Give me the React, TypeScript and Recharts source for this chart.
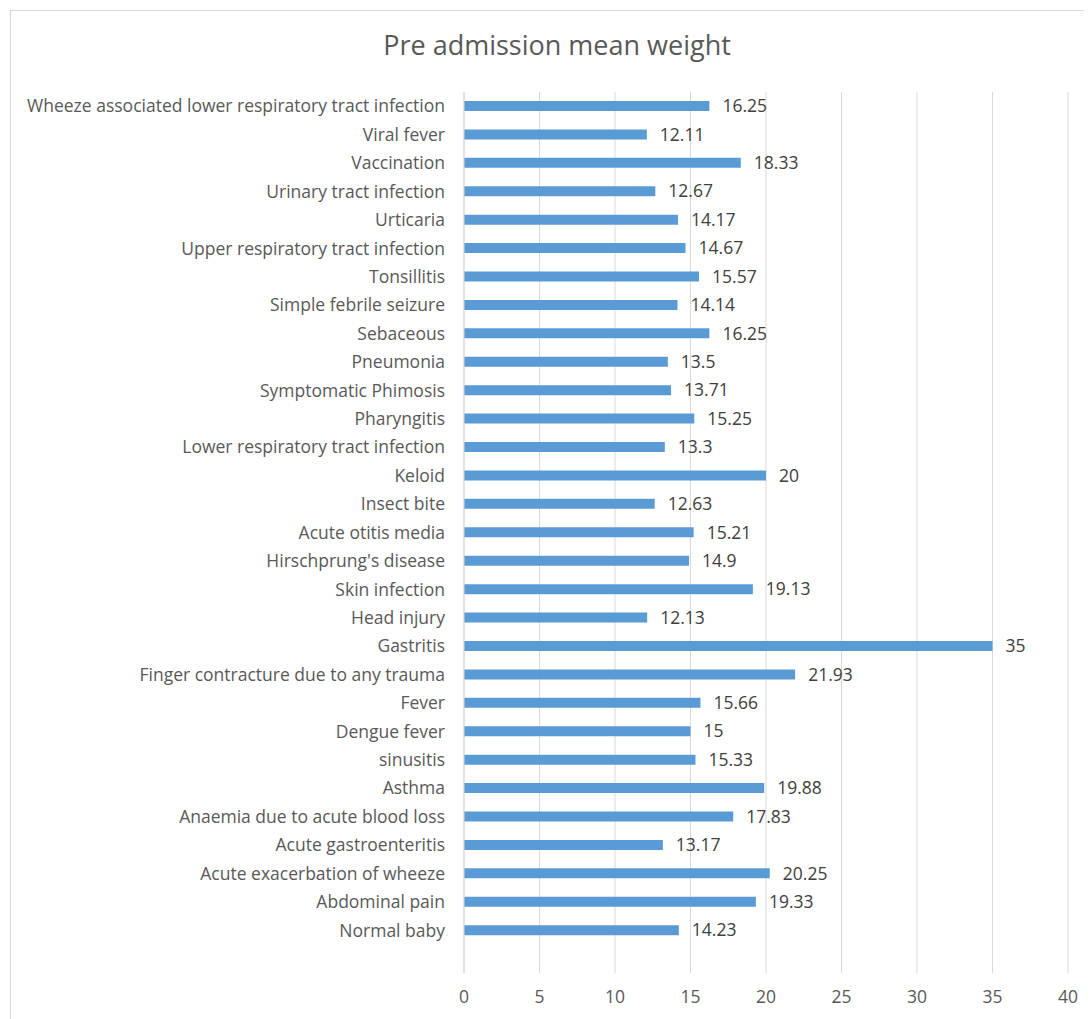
import React from 'react'
import { BarChart, Bar, XAxis, YAxis, CartesianGrid, LabelList } from 'recharts'

// top-to-bottom order; the trailing blank row keeps the empty slot under the last bar
const diagnoses = [
  'Wheeze associated lower respiratory tract infection',
  'Viral fever',
  'Vaccination',
  'Urinary tract infection',
  'Urticaria',
  'Upper respiratory tract infection',
  'Tonsillitis',
  'Simple febrile seizure',
  'Sebaceous',
  'Pneumonia',
  'Symptomatic Phimosis ',
  'Pharyngitis',
  'Lower respiratory tract infection',
  'Keloid',
  'Insect bite',
  'Acute otitis media',
  "Hirschprung's disease",
  'Skin infection',
  'Head injury',
  'Gastritis',
  'Finger contracture due to any trauma',
  'Fever',
  'Dengue fever',
  'sinusitis',
  'Asthma',
  'Anaemia due to acute blood loss',
  'Acute gastroenteritis',
  'Acute exacerbation of wheeze',
  'Abdominal pain',
  'Normal baby',
  '',
]

const meanWeight: (number | null)[] = [
  16.25, 12.11, 18.33, 12.67, 14.17, 14.67, 15.57, 14.14, 16.25, 13.5,
  13.71, 15.25, 13.3, 20, 12.63, 15.21, 14.9, 19.13, 12.13, 35,
  21.93, 15.66, 15, 15.33, 19.88, 17.83, 13.17, 20.25, 19.33, 14.23,
  null,
]

const xTicks = [0, 5, 10, 15, 20, 25, 30, 35, 40]

const data = diagnoses.map((name, i) => ({ name, value: meanWeight[i] }))

const FONT = '"Open Sans", Lato, sans-serif'
const FS = 17.5

export default function App() {
  return (
    <div style={{ position: 'relative', width: 1084, height: 1011, overflow: 'hidden', fontFamily: FONT }}>
      <div
        style={{
          position: 'absolute',
          left: 2,
          top: 2,
          width: 1200,
          height: 1200,
          borderLeft: '1px solid #d9d9d9',
          borderTop: '1px solid #d9d9d9',
        }}
      />
      <div
        style={{
          position: 'absolute',
          left: 2,
          top: 19,
          width: 1094,
          textAlign: 'center',
          fontSize: 27,
          color: '#595959',
          lineHeight: '36px',
        }}
      >
        Pre admission mean weight
      </div>
      <BarChart
        width={1084}
        height={1011}
        data={data}
        layout="vertical"
        margin={{ top: 84, right: 24, left: 0, bottom: 16 }}
        style={{ position: 'absolute', left: 0, top: 0 }}
      >
        <CartesianGrid horizontal={false} stroke="#d9d9d9" strokeWidth={1} />
        <XAxis
          type="number"
          domain={[0, 40]}
          ticks={xTicks}
          interval={0}
          axisLine={false}
          tickLine={false}
          tickSize={0}
          tickMargin={18}
          height={30}
          tick={{ fill: '#595959', fontSize: FS, fontFamily: FONT }}
        />
        <YAxis
          type="category"
          dataKey="name"
          width={456}
          interval={0}
          axisLine={{ stroke: '#d9d9d9' }}
          tickLine={false}
          tickSize={0}
          tickMargin={19}
          tick={{ fill: '#595959', fontSize: FS, fontFamily: FONT }}
        />
        <Bar dataKey="value" fill="#5b9bd5" barSize={10} isAnimationActive={false}>
          <LabelList
            dataKey="value"
            position="right"
            offset={13}
            fill="#404040"
            fontSize={FS}
            fontFamily={FONT}
          />
        </Bar>
      </BarChart>
    </div>
  )
}
